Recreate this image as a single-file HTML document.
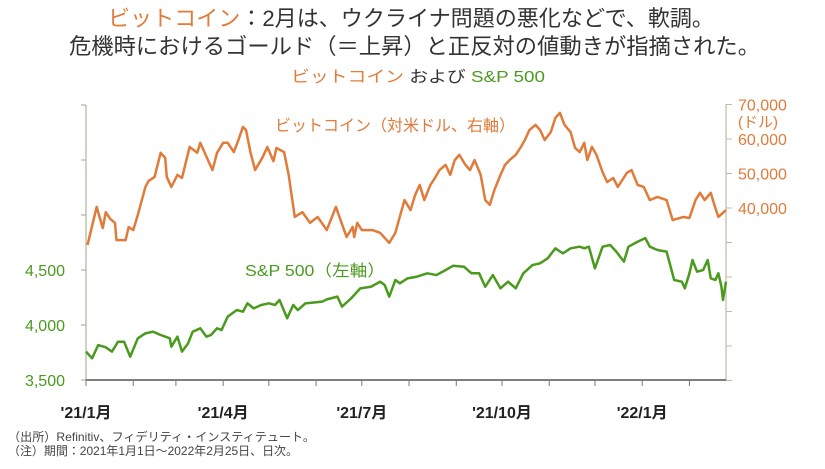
<!DOCTYPE html>
<html><head><meta charset="utf-8"><style>
body{margin:0;background:#fff;}
svg text{font-family:"Liberation Sans","Noto Sans CJK JP",sans-serif;}
</style></head><body>
<svg id="c" width="825" height="464" viewBox="0 0 825 464">
<text x="108" y="26" textLength="606" lengthAdjust="spacingAndGlyphs" font-size="22" fill="#333"><tspan fill="#e07b39">ビットコイン</tspan>：2月は、ウクライナ問題の悪化などで、軟調。</text>
<text x="69" y="54" textLength="691" lengthAdjust="spacingAndGlyphs" font-size="22" fill="#333">危機時におけるゴールド（＝上昇）と正反対の値動きが指摘された。</text>
<text x="291" y="82" textLength="254" lengthAdjust="spacingAndGlyphs" font-size="16" fill="#333"><tspan fill="#e07b39">ビットコイン</tspan> および <tspan fill="#4a9a1e">S&amp;P 500</tspan></text>
<text x="275" y="131" textLength="240" lengthAdjust="spacingAndGlyphs" font-size="16" fill="#e07b39">ビットコイン（対米ドル、右軸）</text>
<text x="245" y="276" textLength="140" lengthAdjust="spacingAndGlyphs" font-size="16" fill="#4a9a1e">S&amp;P 500（左軸）</text>
<text x="8" y="441" textLength="307" lengthAdjust="spacingAndGlyphs" font-size="12" fill="#444">（出所）Refinitiv、フィデリティ・インスティテュート。</text>
<text x="8" y="455" textLength="290" lengthAdjust="spacingAndGlyphs" font-size="12" fill="#444">（注）期間：2021年1月1日～2022年2月25日、日次。</text>
<g id="g"></g>
</svg>
<script>
const monthTickDays=[0,31,59,90,120,151,181,212,243,273,304,334,365,396];
const xLabelDays=[0,90,181,273,365];
const xLabels=["'21/1月","'21/4月","'21/7月","'21/10月","'22/1月"];
const leftTicks=[3500,4000,4500];
const leftTickLabels=["3,500","4,000","4,500"];
const rightTicks=[40000,50000,60000,70000];
const rightTickLabels=["40,000","50,000","60,000","70,000"];
const btcDays=[1,7,11,13,16,19,20,26,28,31,34,39,41,45,49,52,53,56,60,63,68,73,75,80,83,86,90,93,97,100,103,105,108,111,116,119,123,125,130,133,137,142,147,152,158,164,171,175,176,178,181,188,193,199,203,209,213,216,219,222,226,229,232,236,239,242,245,249,252,255,259,262,265,268,272,275,278,282,285,288,291,295,298,301,305,308,311,314,318,321,324,327,329,332,335,339,342,346,349,355,358,362,366,370,375,381,385,392,396,400,403,406,410,413,415,420];
const btcValues=[29300,40300,34200,38800,36800,35700,30700,30700,34500,33600,38000,46100,47800,49000,56000,54500,49000,46100,49600,48700,57700,56000,58900,53900,51000,56000,58900,58900,56200,59700,63500,62600,56000,51000,54800,57700,53600,57400,56200,49600,37400,38800,35700,37400,33600,40300,31600,34500,31600,35700,33600,33600,32800,29900,32800,42300,39400,43800,46700,42300,46700,48700,51000,52500,49600,53900,55400,52500,51000,53900,49600,42300,40900,45200,49600,52500,53900,55400,57400,59700,62600,64100,62600,59700,62000,66100,67600,64100,62000,57400,56200,58900,53900,57700,55400,50400,47500,48700,46100,50200,51000,46700,46100,42300,43200,42300,36500,37400,37100,42300,44400,42300,44400,40000,37400,39400];
const spDays=[0,4,8,13,17,21,25,29,34,39,44,49,55,56,60,63,67,70,75,79,82,86,89,93,99,103,106,110,115,120,124,127,132,136,139,144,155,158,165,168,174,180,187,193,196,199,203,206,211,217,224,230,236,241,248,253,258,262,267,272,277,282,287,293,298,303,308,313,318,324,327,330,334,339,344,348,353,356,362,367,370,375,381,386,391,393,396,398,401,405,408,410,413,415,417,418,420];
const spValues=[3758,3697,3818,3797,3758,3848,3848,3712,3879,3924,3939,3909,3879,3803,3894,3758,3833,3939,3970,3894,3909,3970,3955,4076,4136,4121,4197,4151,4182,4197,4182,4227,4061,4182,4136,4197,4212,4233,4258,4167,4242,4333,4348,4394,4364,4258,4409,4379,4424,4439,4470,4454,4500,4539,4530,4470,4470,4348,4454,4333,4394,4333,4470,4545,4561,4606,4697,4651,4697,4712,4697,4712,4515,4712,4727,4667,4576,4712,4757,4790,4712,4682,4667,4409,4394,4333,4470,4591,4485,4500,4591,4424,4409,4470,4348,4227,4394];

const X0=86,X1=726,Y0=380,DAYS=420;
const x=d=>X0+(X1-X0)*d/DAYS;
const yL=v=>Y0-(v-3500)*0.11;
const yR=v=>208-(v-40000)*34.5/10000;
const NS="http://www.w3.org/2000/svg",g=document.getElementById('g');
function mk(t,a){const e=document.createElementNS(NS,t);for(const k in a)e.setAttribute(k,a[k]);g.appendChild(e);return e;}
let e;
e=mk('line',{x1:X0,y1:105,x2:X0,y2:Y0,stroke:'#9aa88a','stroke-width':1});


for(let v=3500;v<=6000;v+=500){e=mk('line',{x1:X0-5,y1:yL(v),x2:X0,y2:yL(v),stroke:'#9aa88a'});

}
e=mk('line',{x1:X1,y1:104,x2:X1,y2:Y0,stroke:'#c8b9a6','stroke-width':1.2});


for(let v=-10000;v<=70000;v+=10000){e=mk('line',{x1:X1,y1:yR(v),x2:X1+6,y2:yR(v),stroke:'#c8b9a6'});

}
e=mk('line',{x1:X0,y1:Y0,x2:X1,y2:Y0,stroke:'#333','stroke-width':1.2});


monthTickDays.forEach(d=>{e=mk('line',{x1:x(d),y1:Y0,x2:x(d),y2:Y0+6,stroke:'#777'});

});
xLabelDays.forEach((d,i)=>{e=mk('text',{x:x(d),y:418,'text-anchor':'middle','font-size':16,'font-weight':'bold',fill:'#222'});e.textContent=xLabels[i];

});
leftTicks.forEach((v,i)=>{e=mk('text',{x:65,y:yL(v)+6,'text-anchor':'end','font-size':16,fill:'#4a9a1e'});e.textContent=leftTickLabels[i];

});
rightTicks.forEach((v,i)=>{e=mk('text',{x:738,y:yR(v)+6,'font-size':16,fill:'#e07b39'});e.textContent=rightTickLabels[i];

});
e=mk('text',{x:738,y:127,'font-size':15,fill:'#e07b39'});e.textContent='(ドル)';


e=mk('polyline',{points:btcDays.map((d,i)=>x(d)+','+yR(btcValues[i])).join(' '),fill:'none',stroke:'#e07b39','stroke-width':2.5,'stroke-linejoin':'round'});


e=mk('polyline',{points:spDays.map((d,i)=>x(d)+','+yL(spValues[i])).join(' '),fill:'none',stroke:'#4a9a1e','stroke-width':2.5,'stroke-linejoin':'round'});


</script>
</body></html>
